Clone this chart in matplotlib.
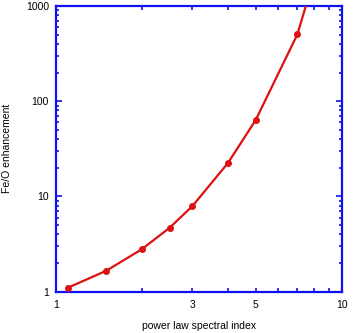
import matplotlib.pyplot as plt
from matplotlib.ticker import LogLocator, FixedLocator, FixedFormatter, NullFormatter

# data
spectral_index = [1.1, 1.5, 2.0, 2.5, 3.0, 4.0, 5.0, 7.0, 8.0]
fe_o_enhancement = [1.1, 1.66, 2.8, 4.7, 7.9, 22.5, 63.5, 505, 1950]
x_tick_vals = [1, 3, 5, 10]
x_tick_labels = ["1", "3", "5", "10"]
y_tick_vals = [1, 10, 100, 1000]
y_tick_labels = ["1", "10", "100", "1000"]

plt.rcParams['font.family'] = ['Liberation Sans', 'DejaVu Sans']
blue = '#1010f0'
red = '#dd1111'

fig = plt.figure(figsize=(3.57, 3.33), dpi=100)
ax = fig.add_axes([56 / 357, 1 - 291.7 / 333, 285.7 / 357, 285.7 / 333])

# last point lies above the frame, only the segment toward it shows
ax.plot(spectral_index[:-1], fe_o_enhancement[:-1], 'o', color=red, markersize=4, zorder=3)
ax.plot(spectral_index, fe_o_enhancement, '-', color=red, linewidth=1.6, zorder=3)

ax.set_xscale('log')
ax.set_yscale('log')
ax.set_xlim(1, 10)
ax.set_ylim(1, 1000)

ax.xaxis.set_major_locator(FixedLocator(x_tick_vals))
ax.xaxis.set_major_formatter(FixedFormatter(x_tick_labels))
ax.xaxis.set_minor_locator(LogLocator(base=10, subs=[2, 4, 6, 7, 8, 9]))
ax.xaxis.set_minor_formatter(NullFormatter())
ax.yaxis.set_major_locator(FixedLocator(y_tick_vals))
ax.yaxis.set_major_formatter(FixedFormatter(y_tick_labels))
ax.yaxis.set_minor_locator(LogLocator(base=10, subs=range(2, 10)))
ax.yaxis.set_minor_formatter(NullFormatter())

for s in ax.spines.values():
    s.set_color(blue)
    s.set_linewidth(1.6)

ax.tick_params(which='both', direction='in', top=True, right=True, colors=blue,
               labelcolor='black', labelsize=7.5, width=1.2)
ax.tick_params(axis='y', which='major', length=4.5, pad=5)
ax.tick_params(axis='y', which='minor', length=2.5)
ax.tick_params(axis='x', which='major', length=3, pad=6)
ax.tick_params(axis='x', which='minor', length=3)

ax.set_xlabel('power law spectral index', fontsize=7.5, labelpad=8)
ax.set_ylabel('Fe/O enhancement', fontsize=7.5, labelpad=10)

fig.savefig('out.png', dpi=100)
